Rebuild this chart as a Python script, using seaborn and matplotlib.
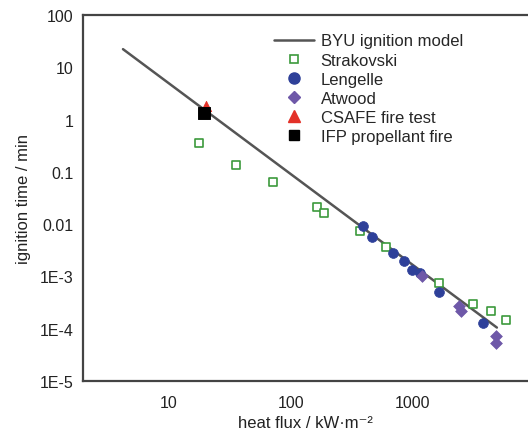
import numpy as np
import pandas as pd
import seaborn as sns
import matplotlib.pyplot as plt
from matplotlib.lines import Line2D

# values (log-log)
model_flux = [4.2, 4890]
model_time = [22.3, 1.05e-4]

strak_flux = [17.6, 35.4, 71, 163, 186, 368, 601, 1633, 3100, 4350, 5780]
strak_time = [0.353, 0.134, 0.0632, 0.021, 0.0161, 0.00728, 0.00359, 7.35e-4, 2.91e-4, 2.14e-4, 1.44e-4]

leng_flux = [389, 461, 686, 843, 981, 1140, 1633, 3750]
leng_time = [0.00908, 0.00559, 0.00276, 0.00194, 0.0013, 0.00114, 4.93e-4, 1.26e-4]

atwood_flux = [1185, 2380, 2470, 4790, 4790]
atwood_time = [1.04e-3, 2.66e-4, 2.14e-4, 7.4e-5, 5.4e-5]

csafe_flux = [20.1]
csafe_time = [1.81]

ifp_flux = [19.4]
ifp_time = [1.33]

yticks = [100, 10, 1, 0.1, 0.01, 1e-3, 1e-4, 1e-5]
ytick_labels = ['100', '10', '1', '0.1', '0.01', '1E-3', '1E-4', '1E-5']
xticks = [10, 100, 1000]
xtick_labels = ['10', '100', '1000']

sns.set_style('white')
plt.rcParams['font.family'] = ['Liberation Sans', 'DejaVu Sans']

fig = plt.figure(figsize=(5.28, 4.35), dpi=100)
ax = fig.add_axes([0.157, 0.122, 0.843, 0.841])

model = pd.DataFrame({'flux': model_flux, 'time': model_time})
sns.lineplot(data=model, x='flux', y='time', ax=ax, color='#555555', lw=1.8)

sns.scatterplot(x=strak_flux, y=strak_time, ax=ax, marker='s', s=28,
                facecolor='white', edgecolor='#3c9a3c', linewidth=1.2, zorder=3)
sns.scatterplot(x=leng_flux, y=leng_time, ax=ax, marker='o', s=50,
                color='#2e4099', edgecolor='#2e4099', linewidth=0.5, zorder=4)
sns.scatterplot(x=atwood_flux, y=atwood_time, ax=ax, marker='D', s=36,
                color='#6e58a8', edgecolor='#6e58a8', linewidth=0.5, zorder=4)
sns.scatterplot(x=csafe_flux, y=csafe_time, ax=ax, marker='^', s=55,
                color='#e33128', edgecolor='#e33128', zorder=5)
sns.scatterplot(x=ifp_flux, y=ifp_time, ax=ax, marker='s', s=70,
                color='black', edgecolor='black', zorder=6)

ax.set_xscale('log')
ax.set_yscale('log')
ax.set_xlim(1.97, 8800)
ax.set_ylim(1e-5, 100)
ax.set_xticks(xticks)
ax.set_xticklabels(xtick_labels)
ax.set_yticks(yticks)
ax.set_yticklabels(ytick_labels)
ax.minorticks_off()
ax.tick_params(axis='both', which='major', direction='out', length=3, width=1,
               color='#444444', labelsize=11.5, labelcolor='#222222', pad=4)
ax.tick_params(axis='x', pad=7)

for side in ['left', 'bottom', 'top']:
    ax.spines[side].set_color('#444444')
    ax.spines[side].set_linewidth(1.6)
ax.spines['right'].set_visible(False)

ax.set_xlabel('heat flux / kW·m⁻²', fontsize=12, color='#222222', labelpad=4)
ax.set_ylabel('ignition time / min', fontsize=12, color='#222222', labelpad=6)

handles = [
    Line2D([], [], color='#555555', lw=1.8),
    Line2D([], [], ls='', marker='s', ms=6, mfc='white', mec='#3c9a3c', mew=1.2),
    Line2D([], [], ls='', marker='o', ms=8, color='#2e4099'),
    Line2D([], [], ls='', marker='D', ms=6.5, color='#6e58a8'),
    Line2D([], [], ls='', marker='^', ms=8.5, color='#e33128'),
    Line2D([], [], ls='', marker='s', ms=7.5, color='black'),
]
labels = ['BYU ignition model', 'Strakovski', 'Lengelle', 'Atwood',
          'CSAFE fire test', 'IFP propellant fire']
ax.legend(handles, labels, loc='upper left', bbox_to_anchor=(0.414, 0.968),
          frameon=False, fontsize=12, handlelength=2.4, handletextpad=0.4,
          labelspacing=0.25, borderaxespad=0)

fig.savefig('out.png', dpi=100)
